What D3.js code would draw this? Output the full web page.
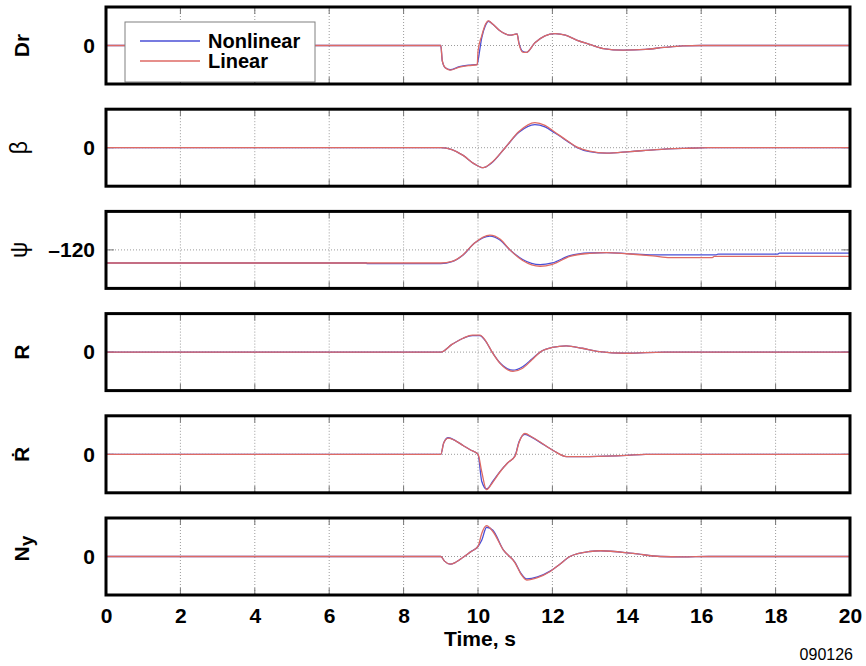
<!DOCTYPE html>
<html>
<head>
<meta charset="utf-8">
<script src="https://d3js.org/d3.v7.min.js"></script>
<style>
  body { margin: 0; background: #fff; }
  text { font-family: "Liberation Sans", Arial, Helvetica, sans-serif; }
</style>
</head>
<body>
<script>
// ---- data ----
var timeTicks = [0, 2, 4, 6, 8, 10, 12, 14, 16, 18, 20];
var seriesNames = ["Nonlinear", "Linear"];

// Dr
var drTime      = [0, 9.0, 9.04, 9.12, 9.25, 9.5, 9.75, 9.98, 10.0, 10.1, 10.2, 10.28, 10.4, 10.58, 10.86, 11.05, 11.1, 11.2, 11.3, 11.53, 11.8, 12.07, 12.35, 12.65, 13.0, 13.37, 13.9, 14.5, 15.0, 15.5, 16.0, 20];
var drLinear    = [0, 0, -0.4, -0.58, -0.64, -0.56, -0.52, -0.5, -0.15, 0.25, 0.55, 0.64, 0.55, 0.39, 0.27, 0.3, 0.05, -0.17, -0.18, 0.07, 0.25, 0.31, 0.27, 0.14, 0.03, -0.08, -0.12, -0.1, -0.05, -0.01, 0, 0];
var drNonlinear = [0, 0, -0.4, -0.58, -0.63, -0.55, -0.51, -0.49, -0.4, 0.2, 0.52, 0.63, 0.55, 0.39, 0.27, 0.3, 0.07, -0.15, -0.18, 0.07, 0.25, 0.31, 0.27, 0.14, 0.03, -0.08, -0.12, -0.1, -0.05, -0.01, 0, 0];

// beta
var betaTime      = [0, 9.0, 9.3, 9.6, 9.9, 10.14, 10.35, 10.73, 11.1, 11.53, 11.8, 12.07, 12.4, 12.65, 13.0, 13.46, 14.09, 14.8, 15.5, 16.2, 20];
var betaLinear    = [0, 0, -0.05, -0.2, -0.42, -0.52, -0.4, 0, 0.42, 0.65, 0.58, 0.4, 0.18, 0.02, -0.09, -0.14, -0.1, -0.05, -0.02, 0, 0];
var betaNonlinear = [0, 0, -0.05, -0.2, -0.42, -0.52, -0.41, 0, 0.4, 0.6, 0.54, 0.38, 0.17, 0.01, -0.1, -0.14, -0.1, -0.05, -0.02, 0, 0];

// psi
var psiTime      = [0, 7.0, 7.02, 9.0, 9.3, 9.6, 9.9, 10.32, 10.6, 10.86, 11.2, 11.67, 12.0, 12.47, 13.0, 13.46, 14.0, 14.7, 15.16, 16.3, 16.35, 16.4, 16.45, 18.05, 18.1, 20];
var psiLinear    = [-126.8, -126.8, -126.8, -126.8, -126, -122.5, -116.5, -112.3, -114.5, -120, -125.5, -128.5, -127.5, -123.4, -121.8, -121.4, -122, -123.1, -124, -124, -123.4, -123.4, -123.4, -123.4, -123.4, -123.4];
var psiNonlinear = [-126.8, -126.8, -127.1, -127.1, -126.1, -122.6, -116.6, -112.8, -115, -120, -125, -127.7, -126.8, -123, -121.6, -121.4, -121.9, -122.6, -122.6, -122.6, -122.6, -122.6, -122.2, -122.2, -121.7, -121.7];

// R
var rTime      = [0, 9.0, 9.3, 9.6, 9.85, 10.05, 10.2, 10.38, 10.6, 10.94, 11.2, 11.45, 11.67, 12.0, 12.37, 12.8, 13.2, 14.0, 15.0, 20];
var rLinear    = [0, 0, 0.2, 0.36, 0.44, 0.44, 0.3, 0, -0.3, -0.5, -0.42, -0.2, 0, 0.12, 0.16, 0.1, 0.02, -0.03, 0, 0];
var rNonlinear = [0, 0, 0.2, 0.36, 0.43, 0.43, 0.29, 0, -0.29, -0.47, -0.38, -0.18, 0, 0.12, 0.16, 0.1, 0.02, -0.03, 0, 0];

// R dot
var rdotTime      = [0, 9.0, 9.08, 9.2, 9.4, 9.6, 9.8, 10.0, 10.1, 10.23, 10.4, 10.59, 10.8, 11.0, 11.1, 11.26, 11.45, 11.67, 12.02, 12.38, 13.0, 14.0, 14.5, 20];
var rdotLinear    = [0, 0, 0.3, 0.42, 0.35, 0.23, 0.11, 0, -0.45, -0.92, -0.72, -0.46, -0.22, -0.04, 0.3, 0.54, 0.45, 0.32, 0.1, -0.06, -0.06, -0.03, 0, 0];
var rdotNonlinear = [0, 0, 0.3, 0.43, 0.35, 0.23, 0.11, 0, -0.7, -0.9, -0.7, -0.45, -0.22, -0.03, 0.32, 0.52, 0.44, 0.31, 0.1, -0.06, -0.06, -0.03, 0, 0];

// Ny
var nyTime      = [0, 9.0, 9.1, 9.25, 9.4, 9.6, 9.8, 10.0, 10.1, 10.23, 10.4, 10.68, 11.0, 11.15, 11.31, 11.6, 11.94, 12.2, 12.47, 13.0, 13.3, 14.17, 14.9, 15.5, 16.2, 20];
var nyLinear    = [0, 0, -0.12, -0.2, -0.15, -0.02, 0.12, 0.26, 0.6, 0.8, 0.65, 0.17, -0.17, -0.45, -0.61, -0.55, -0.39, -0.2, 0, 0.13, 0.15, 0.08, 0, -0.01, 0, 0];
var nyNonlinear = [0, 0, -0.12, -0.2, -0.15, -0.02, 0.12, 0.26, 0.42, 0.76, 0.68, 0.17, -0.16, -0.43, -0.58, -0.53, -0.38, -0.2, 0, 0.13, 0.15, 0.08, 0, -0.01, 0, 0];

var panelLabels = ["Dr", "\u03b2", "\u03c8", "R", "\u1e58", "N"];
var panelTicks  = [0, 0, -120, 0, 0, 0];
var panelDomains = [[-1, 1], [-1, 1], [-140, -100], [-1, 1], [-1, 1], [-1, 1]];
var panelTimes = [drTime, betaTime, psiTime, rTime, rdotTime, nyTime];
var panelLinear = [drLinear, betaLinear, psiLinear, rLinear, rdotLinear, nyLinear];
var panelNonlinear = [drNonlinear, betaNonlinear, psiNonlinear, rNonlinear, rdotNonlinear, nyNonlinear];

// ---- drawing ----
var width = 866, height = 666;
var blue = "#4a4fd6", red = "#de6a64";
var sans = "'Liberation Sans', Arial, sans-serif";

var svg = d3.select("body").append("svg")
    .attr("width", width)
    .attr("height", height);

var x = d3.scaleLinear().domain([0, 20]).range([106, 850]);
var panelH = 77, panelStep = 102.2;

panelLabels.forEach(function(label, i) {
  var top = 7 + i * panelStep, bottom = top + panelH;
  var y = d3.scaleLinear().domain(panelDomains[i]).range([bottom, top]);
  var g = svg.append("g");

  g.append("clipPath").attr("id", "clip" + i)
    .append("rect").attr("x", 106).attr("y", top).attr("width", 744).attr("height", panelH);

  // vertical grid (dotted) + short solid ticks top and bottom
  var inner = timeTicks.slice(1, -1);
  g.selectAll("line.vgrid").data(inner).join("line")
      .attr("x1", d => x(d)).attr("x2", d => x(d))
      .attr("y1", top).attr("y2", bottom)
      .attr("stroke", "#9a9a9a").attr("stroke-width", 1).attr("stroke-dasharray", "1,2");
  g.selectAll("line.ttop").data(inner).join("line")
      .attr("x1", d => x(d)).attr("x2", d => x(d))
      .attr("y1", top).attr("y2", top + 7)
      .attr("stroke", "#777").attr("stroke-width", 1);
  g.selectAll("line.tbot").data(inner).join("line")
      .attr("x1", d => x(d)).attr("x2", d => x(d))
      .attr("y1", bottom - 7).attr("y2", bottom)
      .attr("stroke", "#777").attr("stroke-width", 1);

  // horizontal grid at the labelled tick
  var yt = y(panelTicks[i]);
  g.append("line").attr("x1", 106).attr("x2", 850).attr("y1", yt).attr("y2", yt)
      .attr("stroke", "#9a9a9a").attr("stroke-dasharray", "1,2");
  g.append("line").attr("x1", 106).attr("x2", 114).attr("y1", yt).attr("y2", yt).attr("stroke", "#777");
  g.append("line").attr("x1", 842).attr("x2", 850).attr("y1", yt).attr("y2", yt).attr("stroke", "#777");

  // series: nonlinear underneath, linear on top
  var times = panelTimes[i];
  var line = d3.line()
      .x((d, k) => x(times[k]))
      .y(d => y(d))
      .curve(d3.curveMonotoneX);
  var lines = g.append("g").attr("clip-path", "url(#clip" + i + ")");
  lines.append("path").datum(panelNonlinear[i])
      .attr("d", line).attr("fill", "none").attr("stroke", blue).attr("stroke-width", 1.3);
  lines.append("path").datum(panelLinear[i])
      .attr("d", line).attr("fill", "none").attr("stroke", red).attr("stroke-width", 1.3);

  // y tick label
  var yAxis = d3.axisLeft(y).tickValues([panelTicks[i]]).tickSize(0).tickPadding(11)
      .tickFormat(d => d < 0 ? "\u2013" + Math.abs(d) : d3.format("d")(d));
  var ya = g.append("g").attr("transform", "translate(106,0)").call(yAxis);
  ya.select(".domain").remove();
  ya.selectAll("text").attr("font-size", 21).attr("font-weight", "bold")
    .attr("font-family", sans).attr("fill", "#000");

  // legend in the first panel
  if (i === 0) {
    var lg = g.append("g");
    lg.append("rect").attr("x", 125).attr("y", 22).attr("width", 190).attr("height", 60)
      .attr("fill", "#fff").attr("stroke", "#808080").attr("stroke-width", 1);
    [blue, red].forEach(function(c, k) {
      var ly = 41 + k * 20;
      lg.append("line").attr("x1", 140).attr("x2", 200).attr("y1", ly).attr("y2", ly)
        .attr("stroke", c).attr("stroke-width", 1.3);
      lg.append("text").attr("x", 208).attr("y", ly + 7)
        .attr("font-size", 20).attr("font-weight", "bold").text(seriesNames[k]);
    });
  }

  // frame
  g.append("rect").attr("x", 106).attr("y", top).attr("width", 744).attr("height", panelH)
    .attr("fill", "none").attr("stroke", "#000").attr("stroke-width", 3);

  // panel label (rotated)
  var cy = y(panelTicks[i]);
  var greek = (i === 1 || i === 2);
  var lab = g.append("text")
      .attr("transform", "translate(" + (greek ? 27 : 29) + "," + cy + ") rotate(-90)")
      .attr("text-anchor", "middle")
      .attr("font-size", greek ? 23 : 21)
      .attr("font-weight", greek ? "normal" : "bold")
      .attr("font-family", greek ? "'Liberation Serif', 'DejaVu Serif', serif" : "'Liberation Sans', 'DejaVu Sans', Arial, sans-serif")
      .text(label);
  if (i === 5) {
    lab.attr("text-anchor", "start").attr("transform", "translate(29," + (cy + 5) + ") rotate(-90)");
    lab.append("tspan").attr("dy", 4).attr("font-size", 19).text("y");
  }

  // x axis under the last panel
  if (i === panelLabels.length - 1) {
    var xAxis = d3.axisBottom(x).tickValues(timeTicks).tickSize(0).tickPadding(13).tickFormat(d3.format("d"));
    var xa = svg.append("g").attr("transform", "translate(0," + bottom + ")").call(xAxis);
    xa.select(".domain").remove();
    xa.selectAll("text").attr("font-size", 21).attr("font-weight", "bold")
      .attr("font-family", sans).attr("fill", "#000");
  }
});

svg.append("text").attr("x", x(10) + 2).attr("y", 646).attr("text-anchor", "middle")
  .attr("font-size", 21).attr("font-weight", "bold").text("Time, s");
svg.append("text").attr("x", 853).attr("y", 660).attr("text-anchor", "end")
  .attr("font-size", 16).text("090126");
</script>
</body>
</html>
